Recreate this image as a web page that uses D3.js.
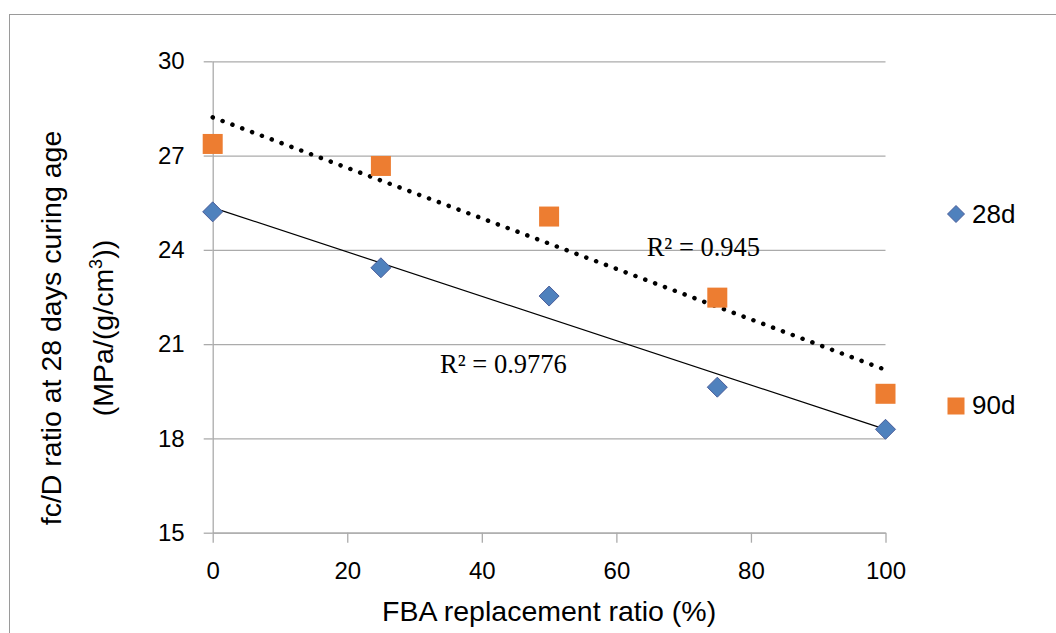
<!DOCTYPE html>
<html>
<head>
<meta charset="utf-8">
<script src="https://cdn.jsdelivr.net/npm/d3@7"></script>
<style>
  body { margin: 0; background: #fff; }
  text { font-family: "Liberation Sans", Arial, sans-serif; }
</style>
</head>
<body>
<div id="chart"></div>
<script>
// Data
var replacement = [0, 25, 50, 75, 100];
var ratio28d = [25.21, 23.43, 22.53, 19.63, 18.29];
var ratio90d = [27.37, 26.67, 25.06, 22.48, 19.42];
var xTicks = [0, 20, 40, 60, 80, 100];
var yTicks = [15, 18, 21, 24, 27, 30];
var seriesNames = ["28d", "90d"];
var r2Labels = ["R² = 0.9776", "R² = 0.945"];

// Basic size information
var svgWidth = 1056, svgHeight = 633;
var margin = {top: 61.3, right: 170.5, bottom: 100.3, left: 212.7};
var width = svgWidth - margin.left - margin.right;
var height = svgHeight - margin.top - margin.bottom;

var blue = "#4F81BD", orange = "#ED7D31", grid = "#ABABAB";

var svg = d3.select("#chart")
    .append("svg")
        .attr("width", svgWidth)
        .attr("height", svgHeight);

// Outer chart frame (runs off the page to the right and bottom)
svg.append("rect")
    .attr("x", 9.5).attr("y", 14.5)
    .attr("width", svgWidth + 20).attr("height", svgHeight + 20)
    .attr("fill", "none")
    .attr("stroke", "#9a9a9a");

var g = svg.append("g")
    .attr("transform", "translate(" + margin.left + "," + margin.top + ")");

var x = d3.scaleLinear().domain([0, 100]).range([0, width]);
var y = d3.scaleLinear().domain([15, 30]).range([height, 0]);

// Gridlines
g.append("g")
    .call(d3.axisLeft(y).tickValues(yTicks).tickSize(-width).tickFormat(""))
    .call(a => a.select(".domain").remove())
    .call(a => a.selectAll("line").attr("stroke", grid).attr("stroke-width", 1.3));

// Y axis
g.append("g")
    .call(d3.axisLeft(y).tickValues(yTicks).tickSize(9).tickSizeOuter(0).tickPadding(19))
    .call(a => a.select(".domain").attr("stroke", grid).attr("stroke-width", 1.3))
    .call(a => a.selectAll("line").attr("stroke", grid).attr("stroke-width", 1.3))
    .call(a => a.selectAll("text")
        .attr("fill", "#000")
        .style("font-size", "24px")
        .style("font-family", "Liberation Sans, Arial, sans-serif"));

// X axis
g.append("g")
    .attr("transform", "translate(0," + height + ")")
    .call(d3.axisBottom(x).tickValues(xTicks).tickSize(10).tickSizeOuter(0).tickPadding(8))
    .call(a => a.select(".domain").attr("stroke", grid).attr("stroke-width", 1.3))
    .call(a => a.selectAll("line").attr("stroke", grid).attr("stroke-width", 1.3))
    .call(a => a.selectAll("text")
        .attr("fill", "#000")
        .attr("dy", "1.2em")
        .style("font-size", "24px")
        .style("font-family", "Liberation Sans, Arial, sans-serif"));

// Axis titles
svg.append("text")
    .attr("x", margin.left + width / 2)
    .attr("y", 621)
    .attr("text-anchor", "middle")
    .style("font-size", "28.5px")
    .text("FBA replacement ratio (%)");

var yTitle = svg.append("text")
    .attr("transform", "translate(61,328) rotate(-90)")
    .attr("text-anchor", "middle")
    .style("font-size", "28.5px");
yTitle.append("tspan").attr("x", 0).attr("y", 0).text("fc/D ratio at 28 days curing age");
var line2 = yTitle.append("tspan").attr("x", 0).attr("y", 52);
line2.append("tspan").text("(MPa/(g/cm");
line2.append("tspan").attr("dy", -11).style("font-size", "18px").text("3");
line2.append("tspan").attr("dy", 11).text("))");

// Least-squares trendline from the points
function fit(xs, ys) {
    var mx = d3.mean(xs), my = d3.mean(ys);
    var sxy = d3.sum(xs, (v, i) => (v - mx) * (ys[i] - my));
    var sxx = d3.sum(xs, v => (v - mx) * (v - mx));
    var b = sxy / sxx;
    return v => my + b * (v - mx);
}
var f28 = fit(replacement, ratio28d);
var f90 = fit(replacement, ratio90d);
var dom = x.domain();

g.append("line")
    .attr("x1", x(dom[0])).attr("y1", y(f28(dom[0])))
    .attr("x2", x(dom[1])).attr("y2", y(f28(dom[1])))
    .attr("stroke", "#000")
    .attr("stroke-width", 1.2);

g.append("line")
    .attr("x1", x(dom[0])).attr("y1", y(f90(dom[0])))
    .attr("x2", x(dom[1])).attr("y2", y(f90(dom[1])))
    .attr("stroke", "#000")
    .attr("stroke-width", 4.5)
    .attr("stroke-linecap", "round")
    .attr("stroke-dasharray", "0.1 10.4");

// Markers
var diamond = s => "M0," + (-s / 2) + "L" + (s / 2) + ",0L0," + (s / 2) + "L" + (-s / 2) + ",0Z";

g.selectAll(".p28")
    .data(replacement)
    .join("path")
        .attr("class", "p28")
        .attr("transform", (d, i) => "translate(" + x(d) + "," + y(ratio28d[i]) + ")")
        .attr("d", diamond(20))
        .attr("fill", blue)
        .attr("stroke", "#4A5D9A")
        .attr("stroke-width", 1);

g.selectAll(".p90")
    .data(replacement)
    .join("rect")
        .attr("class", "p90")
        .attr("x", d => x(d) - 10)
        .attr("y", (d, i) => y(ratio90d[i]) - 10)
        .attr("width", 20)
        .attr("height", 20)
        .attr("fill", orange);

// R² labels, anchored in data space
g.append("text")
    .attr("x", x(33.8)).attr("y", y(20.08))
    .style("font-family", "Liberation Serif, Times New Roman, serif")
    .style("font-size", "26.5px")
    .text(r2Labels[0]);

g.append("text")
    .attr("x", x(64.5)).attr("y", y(23.79))
    .style("font-family", "Liberation Serif, Times New Roman, serif")
    .style("font-size", "26.5px")
    .text(r2Labels[1]);

// Legend
var legend = svg.append("g");
legend.append("path")
    .attr("transform", "translate(956,214)")
    .attr("d", diamond(17))
    .attr("fill", blue)
    .attr("stroke", "#4A5D9A");
legend.append("text")
    .attr("x", 972).attr("y", 223)
    .style("font-size", "26px")
    .text(seriesNames[0]);
legend.append("rect")
    .attr("x", 947.5).attr("y", 397.5)
    .attr("width", 17).attr("height", 17)
    .attr("fill", orange);
legend.append("text")
    .attr("x", 972).attr("y", 414)
    .style("font-size", "26px")
    .text(seriesNames[1]);
</script>
</body>
</html>
